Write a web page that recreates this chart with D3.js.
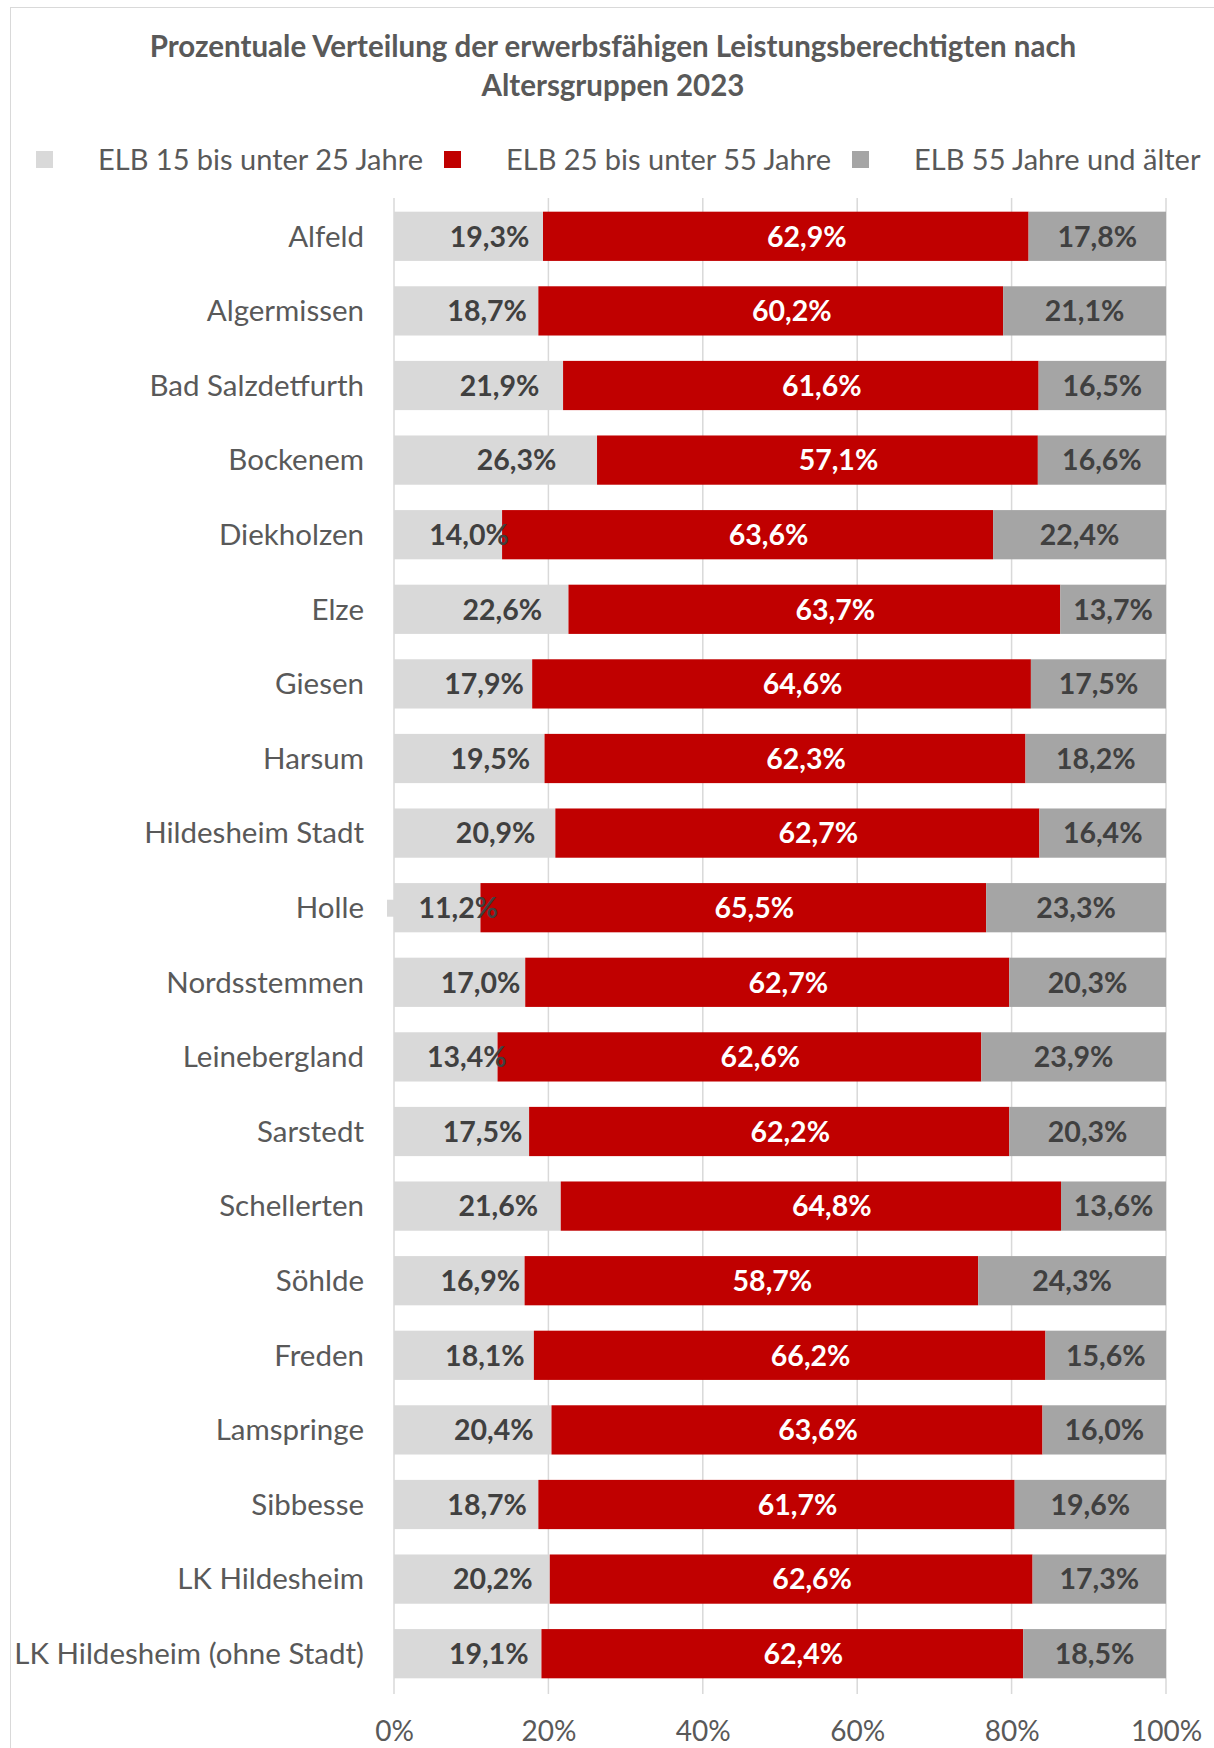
<!DOCTYPE html>
<html><head><meta charset="utf-8">
<script src="https://cdn.jsdelivr.net/npm/d3@7"></script>
<style>body{margin:0;background:#fff}svg{display:block}</style>
</head><body>
<script>
const title = ["Prozentuale Verteilung der erwerbsfähigen Leistungsberechtigten nach", "Altersgruppen 2023"];
const categories = ["Alfeld","Algermissen","Bad Salzdetfurth","Bockenem","Diekholzen","Elze","Giesen","Harsum","Hildesheim Stadt","Holle","Nordsstemmen","Leinebergland","Sarstedt","Schellerten","Söhlde","Freden","Lamspringe","Sibbesse","LK Hildesheim","LK Hildesheim (ohne Stadt)"];
const seriesNames = ["ELB 15 bis unter 25 Jahre","ELB 25 bis unter 55 Jahre","ELB 55 Jahre und älter"];
const age15to25 = [19.3,18.7,21.9,26.3,14.0,22.6,17.9,19.5,20.9,11.2,17.0,13.4,17.5,21.6,16.9,18.1,20.4,18.7,20.2,19.1];
const age25to55 = [62.9,60.2,61.6,57.1,63.6,63.7,64.6,62.3,62.7,65.5,62.7,62.6,62.2,64.8,58.7,66.2,63.6,61.7,62.6,62.4];
const age55plus = [17.8,21.1,16.5,16.6,22.4,13.7,17.5,18.2,16.4,23.3,20.3,23.9,20.3,13.6,24.3,15.6,16.0,19.6,17.3,18.5];
const tickValues = [0,0.2,0.4,0.6,0.8,1.0];

const W = 1214, H = 1748;
const colors = ["#d9d9d9","#c00000","#a5a5a5"];
const labelColors = ["#404040","#ffffff","#404040"];
const font = "Lato, 'Open Sans', sans-serif";

const svg = d3.select("body").append("svg").attr("width", W).attr("height", H);
svg.append("rect").attr("x",10.5).attr("y",7.5).attr("width",W).attr("height",H).attr("fill","#fff").attr("stroke","#d9d9d9");

// title
svg.append("g").selectAll("text").data(title).join("text")
  .attr("x", 613).attr("y", (d,i)=> 57 + i*39)
  .attr("text-anchor","middle").attr("font-family",font).attr("font-weight","bold")
  .attr("font-size",29.5).attr("fill","#595959").text(d=>d);

// legend
const legX = [44, 452, 860];
const leg = svg.append("g").selectAll("g").data(seriesNames).join("g")
  .attr("transform",(d,i)=>`translate(${legX[i]},160)`);
leg.append("rect").attr("x",-8).attr("y",-9).attr("width",17).attr("height",17).attr("fill",(d,i)=>colors[i]);
leg.append("text").attr("x",54).attr("y",0).attr("dy","0.35em").attr("font-family",font)
  .attr("font-size",29).attr("fill","#595959").text(d=>d);

const data = categories.map((c,i)=>({cat:c, s0:age15to25[i], s1:age25to55[i], s2:age55plus[i]}));
const stack = d3.stack().keys(["s0","s1","s2"]).offset(d3.stackOffsetExpand);
const series = stack(data);

const x = d3.scaleLinear().domain([0,1]).range([394,1166]);
const y = d3.scaleBand().domain(categories).range([199,1691]).paddingInner(0.34).paddingOuter(0.17);

// gridlines
svg.append("g").selectAll("line").data(tickValues).join("line")
  .attr("x1",d=>x(d)).attr("x2",d=>x(d)).attr("y1",198).attr("y2",1694)
  .attr("stroke","#d9d9d9").attr("stroke-width",1.5);

// bars
const g = svg.append("g");
series.forEach((s,si)=>{
  g.append("g").selectAll("rect").data(s).join("rect")
    .attr("x",d=>x(d[0])).attr("width",d=>x(d[1])-x(d[0]))
    .attr("y",d=>y(d.data.cat)).attr("height",y.bandwidth())
    .attr("fill",colors[si]);
});

// Holle marker artifact
svg.append("rect").attr("x",387).attr("y",y("Holle")+y.bandwidth()/2-8).attr("width",8).attr("height",17).attr("fill","#d9d9d9");

// labels
const dxs = [21,21,0];
series.forEach((s,si)=>{
  g.append("g").selectAll("text").data(s).join("text")
    .attr("x",d=>(x(d[0])+x(d[1]))/2 + dxs[si])
    .attr("y",d=>y(d.data.cat)+y.bandwidth()/2).attr("dy","0.36em")
    .attr("text-anchor","middle").attr("font-family",font).attr("font-weight","bold")
    .attr("font-size",28.5).attr("fill",labelColors[si])
    .text(d=>d.data["s"+si].toFixed(1).replace(".",",")+"%");
});

// category axis labels
svg.append("g").selectAll("text").data(categories).join("text")
  .attr("x",364).attr("y",d=>y(d)+y.bandwidth()/2).attr("dy","0.35em")
  .attr("text-anchor","end").attr("font-family",font).attr("font-size",29.5).attr("fill","#595959")
  .text(d=>d);

// x axis
const xAxis = d3.axisBottom(x).tickValues(tickValues).tickFormat(d=>Math.round(d*100)+"%").tickSize(0);
const ax = svg.append("g").attr("transform","translate(0,1718)").call(xAxis);
ax.select(".domain").remove();
ax.selectAll("text").attr("font-family",font).attr("font-size",28).attr("fill","#595959").attr("dy","0.71em");
</script>
</body></html>
